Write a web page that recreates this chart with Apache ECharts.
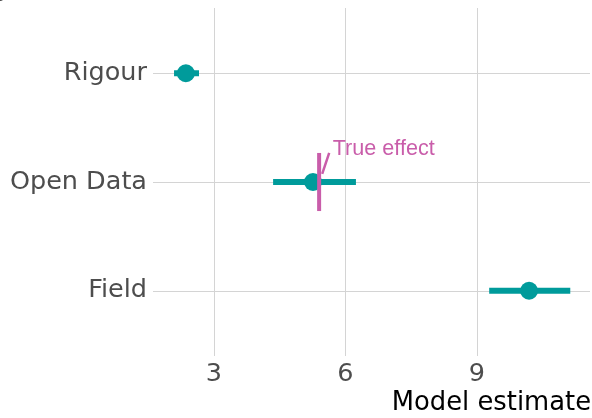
<!DOCTYPE html>
<html><head><meta charset="utf-8">
<script src="https://cdn.jsdelivr.net/npm/echarts@6/dist/echarts.min.js"></script>
<style>html,body{margin:0;padding:0;background:#fff}#c{width:592px;height:418px}</style>
</head><body><div id="c"></div>
<script>
var categories = ['Field', 'Open Data', 'Rigour'];
var estimates = [10.19, 5.26, 2.36];
var lower = [9.28, 4.35, 2.09];
var upper = [11.13, 6.24, 2.66];
var trueEffect = 5.4;
var trueEffectLabel = 'True effect';
var xTicks = [3, 6, 9];

var teal = '#009B9B', pink = '#C95DAA';
var chart = echarts.init(document.getElementById('c'), null, {renderer: 'canvas'});
var whiskerData = categories.map(function (c, i) { return [lower[i], upper[i], i + 1]; });
var pointData = categories.map(function (c, i) { return [estimates[i], i + 1]; });
var catIndex = categories.indexOf('Open Data') + 1;

chart.setOption({
  animation: false,
  graphic: [
    {type: 'text', left: -12, top: -19, style: {text: 'B', fontSize: 26, fontWeight: 'bold', fontFamily: 'DejaVu Sans', fill: '#000'}},
    {type: 'text', right: 1, top: 390, style: {text: 'Model estimate', fontSize: 25.8, fontFamily: 'DejaVu Sans', fill: '#000'}}
  ],
  grid: {left: 153, right: 2, top: 8, bottom: 62},
  xAxis: {
    type: 'value', min: 1.61, max: 11.58,
    axisLine: {show: false},
    axisTick: {show: false, customValues: xTicks},
    axisLabel: {customValues: xTicks, fontSize: 25.5, fontFamily: 'DejaVu Sans', color: '#4D4D4D', margin: 5},
    splitLine: {show: true, lineStyle: {color: '#D4D4D4', width: 1}}
  },
  yAxis: {
    type: 'value', min: 0.4, max: 3.6,
    axisLine: {show: false},
    axisTick: {show: false, customValues: [1, 2, 3]},
    axisLabel: {customValues: [1, 2, 3], fontSize: 25.5, fontFamily: 'DejaVu Sans', color: '#4D4D4D', margin: 6,
      formatter: function (v) { return categories[Math.round(v) - 1] || ''; }},
    splitLine: {show: true, lineStyle: {color: '#D4D4D4', width: 1}}
  },
  series: [
    {
      type: 'custom', data: whiskerData, z: 2,
      renderItem: function (params, api) {
        var a = api.coord([api.value(0), api.value(2)]);
        var b = api.coord([api.value(1), api.value(2)]);
        return {type: 'line', shape: {x1: a[0], y1: a[1], x2: b[0], y2: b[1]}, style: {stroke: teal, lineWidth: 6}};
      }
    },
    {
      type: 'scatter', data: pointData, symbol: 'circle', symbolSize: 18, z: 3,
      itemStyle: {color: teal, opacity: 1}
    },
    {
      type: 'custom', data: [[trueEffect, catIndex]], z: 4,
      renderItem: function (params, api) {
        var x = api.value(0), y = api.value(1);
        var p1 = api.coord([x, y - 0.267]), p2 = api.coord([x, y + 0.267]);
        var s1 = api.coord([x + 0.23, y + 0.267]), s2 = api.coord([x + 0.07, y + 0.074]);
        var t = api.coord([x + 0.31, y + 0.30]);
        return {type: 'group', children: [
          {type: 'line', shape: {x1: p1[0], y1: p1[1], x2: p2[0], y2: p2[1]}, style: {stroke: pink, lineWidth: 4}},
          {type: 'line', shape: {x1: s1[0], y1: s1[1], x2: s2[0], y2: s2[1]}, style: {stroke: pink, lineWidth: 2.5}},
          {type: 'text', x: t[0], y: t[1], style: {text: trueEffectLabel, fontSize: 21.6, fontFamily: 'Liberation Sans', fill: pink, verticalAlign: 'middle', align: 'left'}}
        ]};
      }
    }
  ]
});
</script></body></html>
